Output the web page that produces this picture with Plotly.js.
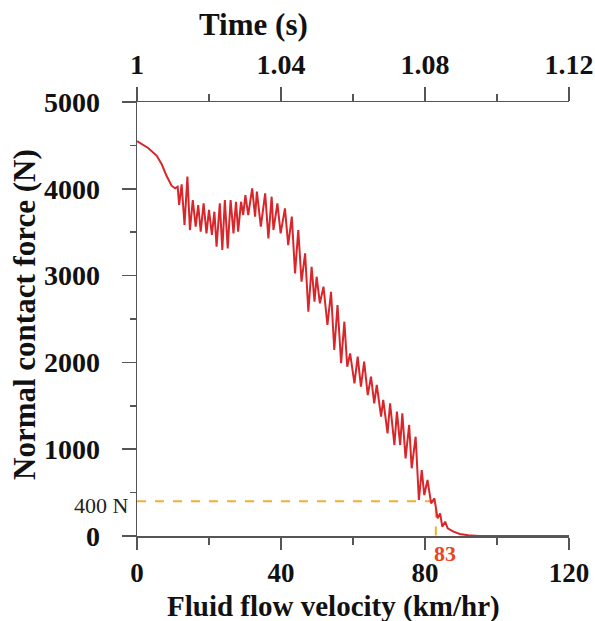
<!DOCTYPE html>
<html>
<head>
<meta charset="utf-8">
<script src="https://cdn.plot.ly/plotly-3.0.1.min.js"></script>
<style>html,body{margin:0;padding:0;background:#fff;}#chart{width:595px;height:621px;}</style>
</head>
<body>
<div id="chart"></div>
<script>
// Fluid flow velocity (km/hr)
const velocity = [0, 3.1, 5.5, 6.9, 8.2, 9.6, 10.6, 11.3, 11.7, 12.4, 13.2, 14.0, 14.7, 15.5, 16.3, 17.0, 17.7, 18.5, 19.3, 20.0,
  20.8, 21.5, 22.1, 23.0, 23.7, 24.4, 25.2, 26.0, 26.8, 27.5, 28.1, 28.9, 29.5, 30.1, 30.9, 32.0, 32.8, 33.3, 34.4, 35.6,
  36.5, 37.4, 37.9, 39.0, 39.9, 41.1, 42.0, 43.0, 43.9, 44.8, 45.7, 46.7, 47.6, 48.5, 49.3, 49.9, 50.8, 51.8, 52.9, 53.9,
  54.8, 55.7, 56.7, 57.6, 58.4, 59.2, 60.4, 61.3, 62.2, 63.1, 64.1, 65.0, 65.9, 66.6, 67.8, 68.4, 69.6, 70.3, 71.5, 72.2,
  73.1, 73.7, 74.6, 75.6, 76.3, 77.4, 78.3, 79.1, 79.8, 80.7, 81.7, 82.6, 83.5, 84.2, 84.8, 85.6, 86.3, 87.9, 89.7, 92, 95, 120];
// Normal contact force (N)
const force = [4550, 4470, 4380, 4280, 4150, 4036, 4005, 4024, 3813, 4051, 3583, 4140, 3525, 3871, 3563, 3813, 3506, 3833, 3487, 3756,
  3468, 3736, 3333, 3833, 3295, 3871, 3314, 3871, 3487, 3851, 3506, 3851, 3698, 3928, 3698, 4005, 3679, 3967, 3563, 3948,
  3429, 3909, 3525, 3833, 3487, 3775, 3352, 3679, 3026, 3525, 2930, 3256, 2584, 3102, 2700, 2987, 2681, 2872, 2431, 2814,
  2143, 2661, 1990, 2469, 1950, 2104, 1759, 2066, 1720, 2008, 1624, 1835, 1529, 1740, 1374, 1567, 1183, 1529, 1048, 1432,
  1048, 1413, 895, 1279, 780, 1144, 415, 760, 472, 645, 376, 434, 204, 261, 107, 165, 89, 50, 23, 8, 0, 0];

const markVelocity = 83;
const markForce = 400;

const velTicks = [0, 40, 80, 120];
const velMinor = [20, 60, 100];
const timeTicks = [1, 1.04, 1.08, 1.12];
const timeTickText = ['1', '1.04', '1.08', '1.12'];
const timeMinor = [1.02, 1.06, 1.10];
const forceTicks = [0, 1000, 2000, 3000, 4000, 5000];
const forceMinor = [500, 1500, 2500, 3500, 4500];

const W = 595, H = 621, L = 137, R = 26, T = 102, B = 85;
const pw = W - L - R, ph = H - T - B;
const px = x => (x - L) / pw;
const py = y => (H - B - y) / ph;

const fam = 'Liberation Serif, Times New Roman, serif';
const serifBold = {family: fam, size: 28, color: '#111', weight: 'bold'};
const lineCol = '#555';

const traces = [
  {x: [0, markVelocity, markVelocity], y: [markForce, markForce, 0], mode: 'lines',
   line: {color: '#f0b030', width: 2, dash: 'dash'}, hoverinfo: 'skip', showlegend: false},
  {x: velocity, y: force, mode: 'lines', line: {color: '#d8262a', width: 2}, showlegend: false},
  // carrier for the top time axis (no visible marks)
  {x: timeTicks, y: timeTicks.map(() => null), xaxis: 'x2', yaxis: 'y', mode: 'lines', showlegend: false, hoverinfo: 'skip'}
];

const axisCommon = {
  showgrid: false, zeroline: false, showline: true, linecolor: lineCol, linewidth: 1.5,
  ticks: 'outside', tickcolor: lineCol, tickwidth: 1.5, tickfont: serifBold, tickmode: 'array'
};

const layout = {
  width: W, height: H,
  margin: {l: L, r: R, t: T, b: B, pad: 0},
  paper_bgcolor: '#fff', plot_bgcolor: '#fff',
  showlegend: false,
  xaxis: Object.assign({}, axisCommon, {range: [0, 120], tickvals: velTicks, ticklen: 12, ticklabelstandoff: 0,
    tickfont: {family: fam, size: 27, color: '#111', weight: 'bold'},
    minor: {tickmode: 'array', tickvals: velMinor, ticks: 'outside', ticklen: 7, tickcolor: lineCol, tickwidth: 1.5}}),
  xaxis2: Object.assign({}, axisCommon, {range: [1, 1.12], overlaying: 'x', side: 'top', anchor: 'y',
    tickvals: timeTicks, ticktext: timeTickText, ticklen: 14, ticklabelstandoff: 1,
    minor: {tickmode: 'array', tickvals: timeMinor, ticks: 'outside', ticklen: 7, tickcolor: lineCol, tickwidth: 1.5}}),
  yaxis: Object.assign({}, axisCommon, {range: [0, 5000], tickvals: forceTicks, ticklen: 14, ticklabelstandoff: 16,
    minor: {tickmode: 'array', tickvals: forceMinor, ticks: 'outside', ticklen: 6, tickcolor: lineCol, tickwidth: 1.5}}),
  annotations: [
    {text: 'Fluid flow velocity (km/hr)', xref: 'paper', yref: 'paper', x: px(333), y: py(606), xanchor: 'center', yanchor: 'middle',
     showarrow: false, font: {family: fam, size: 29, color: '#111', weight: 'bold'}},
    {text: 'Time (s)', xref: 'paper', yref: 'paper', x: px(253), y: py(25), xanchor: 'center', yanchor: 'middle',
     showarrow: false, font: {family: fam, size: 31, color: '#111', weight: 'bold'}},
    {text: 'Normal contact force (N)', xref: 'paper', yref: 'paper', x: px(24), y: py(315), xanchor: 'center', yanchor: 'middle',
     textangle: -90, showarrow: false, font: {family: fam, size: 31, color: '#111', weight: 'bold'}},
    {text: markForce + ' N', xref: 'paper', yref: 'y', x: px(131), y: markForce, xanchor: 'right', yanchor: 'middle', yshift: -4,
     showarrow: false, font: {family: fam, size: 22, color: '#222'}},
    {text: String(markVelocity), xref: 'x', yref: 'paper', x: markVelocity, y: py(553), xanchor: 'left', xshift: -4, yanchor: 'middle',
     showarrow: false, font: {family: fam, size: 22, color: '#e8461e', weight: 'bold'}}
  ]
};

Plotly.newPlot('chart', traces, layout, {staticPlot: true, displayModeBar: false});
</script>
</body>
</html>
